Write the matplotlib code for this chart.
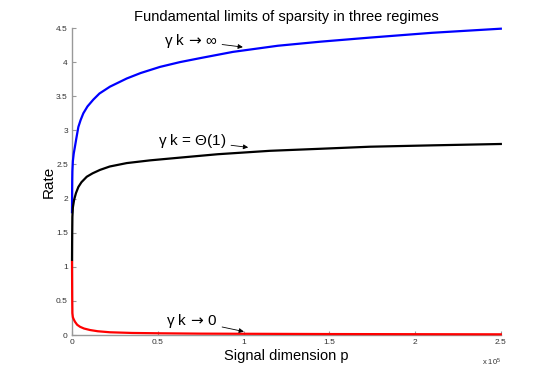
import numpy as np
import matplotlib.pyplot as plt

plt.rcParams['font.family'] = ['Liberation Sans', 'DejaVu Sans']
plt.rcParams['mathtext.fontset'] = 'custom'
plt.rcParams['mathtext.rm'] = 'Liberation Sans'
plt.rcParams['mathtext.it'] = 'Liberation Sans'
plt.rcParams['mathtext.sf'] = 'DejaVu Sans'

# signal dimension p and rate
p_inf = [0, 50, 100, 200, 500, 1000, 1700, 2500, 3700, 5000, 6600, 9000, 12400, 16000,
         22100, 27000, 31900, 40000, 51300, 62900, 75000, 93800, 120000, 145000, 174000,
         210000, 250000]
rate_inf = [1.8, 2.1, 2.25, 2.4, 2.55, 2.66, 2.76, 2.88, 3.05, 3.15, 3.25, 3.35, 3.45, 3.54,
            3.64, 3.70, 3.76, 3.84, 3.93, 4.0, 4.06, 4.15, 4.24, 4.30, 4.36,
            4.43, 4.49]

p_const = [0, 50, 100, 200, 500, 1200, 2300, 3700, 5500, 8600, 12000, 16300, 22000, 31900,
           45500, 62900, 85000, 115400, 145000, 173700, 210000, 250000]
rate_const = [1.1, 1.35, 1.5, 1.73, 1.87, 1.98, 2.08, 2.17, 2.24, 2.32, 2.37, 2.42, 2.47, 2.52,
              2.56, 2.60, 2.65, 2.70, 2.73, 2.76, 2.78, 2.80]

p_zero = [0, 50, 100, 200, 500, 1000, 1700, 3000, 4700, 7000, 10500, 15000, 22100, 35000,
          51300, 75000, 100000, 150000, 200000, 250000]
rate_zero = [1.07, 0.8, 0.55, 0.32, 0.26, 0.23, 0.195, 0.15, 0.12, 0.095, 0.073, 0.055, 0.04, 0.03,
             0.025, 0.02, 0.018, 0.014, 0.012, 0.01]

fig = plt.figure(figsize=(5.54, 3.77), dpi=100)
ax = fig.add_axes([0.130, 0.1114, 0.774, 0.8143])

ax.plot(p_inf, rate_inf, color='blue', lw=1.6, zorder=3, clip_on=False)
ax.plot(p_const, rate_const, color='black', lw=1.6, zorder=3, clip_on=False)
ax.plot(p_zero, rate_zero, color='red', lw=1.6, zorder=3, clip_on=False)

ax.set_xlim(0, 250000)
ax.set_ylim(0, 4.5)
ax.set_xticks([0, 50000, 100000, 150000, 200000, 250000])
ax.set_yticks([0, 0.5, 1, 1.5, 2, 2.5, 3, 3.5, 4, 4.5])
ax.xaxis.set_major_formatter(plt.FuncFormatter(lambda v, _: '%g' % (v / 1e5)))
ax.yaxis.set_major_formatter(plt.FuncFormatter(lambda v, _: '%g' % v))

for s in ['top', 'right']:
    ax.spines[s].set_visible(False)
for s in ['left', 'bottom']:
    ax.spines[s].set_color('#999999')
    ax.spines[s].set_linewidth(1.0)
ax.tick_params(direction='in', length=3, width=0.8, color='#999999',
               labelsize=6, labelcolor='#333333', pad=3)
ax.text(1.0, -0.07, r'x 10$^5$', transform=ax.transAxes, ha='right', va='top',
        fontsize=5.5, color='#333333')

ax.set_title('Fundamental limits of sparsity in three regimes', fontsize=10.5, pad=5)
ax.set_xlabel('Signal dimension p', fontsize=10.5, labelpad=2)
ax.set_ylabel('Rate', fontsize=11, labelpad=0)

arrow = dict(arrowstyle='-|>', color='black', lw=0.6, mutation_scale=7, shrinkA=1, shrinkB=0)
ax.annotate(r'$\gamma\ \mathrm{k}\,\mathsf{\rightarrow}\,\infty$', xy=(99600, 4.22), xytext=(85100, 4.315),
            ha='right', va='center', fontsize=11, arrowprops=arrow)
ax.annotate(r'$\gamma\ \mathrm{k}$ = $\Theta$(1)', xy=(102700, 2.75), xytext=(90300, 2.85),
            ha='right', va='center', fontsize=11, arrowprops=arrow)
ax.annotate(r'$\gamma\ \mathrm{k}\,\mathsf{\rightarrow}\,\mathrm{0}$', xy=(100200, 0.05), xytext=(85100, 0.21),
            ha='right', va='center', fontsize=11, arrowprops=arrow)

plt.savefig('out.png')
